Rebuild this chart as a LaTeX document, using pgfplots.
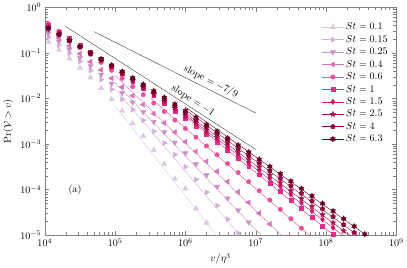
\documentclass[border=0pt]{standalone}
\usepackage{pgfplots}
\usepackage{pgfplotstable}
\pgfplotsset{compat=1.18}
\definecolor{c1}{HTML}{DCC8E2}
\definecolor{c2}{HTML}{D4AEDA}
\definecolor{c3}{HTML}{CA93C8}
\definecolor{c4}{HTML}{D774B6}
\definecolor{c5}{HTML}{E7509C}
\definecolor{c6}{HTML}{E42D88}
\definecolor{c7}{HTML}{CF1566}
\definecolor{c8}{HTML}{AE0F4E}
\definecolor{c9}{HTML}{8E0640}
\definecolor{c10}{HTML}{67001F}
\pgfdeclareplotmark{fstar}{%
  \pgfpathmoveto{\pgfpointpolar{90}{\pgfplotmarksize}}%
  \pgfpathlineto{\pgfpointpolar{126}{0.45*\pgfplotmarksize}}%
  \pgfpathlineto{\pgfpointpolar{162}{\pgfplotmarksize}}%
  \pgfpathlineto{\pgfpointpolar{198}{0.45*\pgfplotmarksize}}%
  \pgfpathlineto{\pgfpointpolar{234}{\pgfplotmarksize}}%
  \pgfpathlineto{\pgfpointpolar{270}{0.45*\pgfplotmarksize}}%
  \pgfpathlineto{\pgfpointpolar{306}{\pgfplotmarksize}}%
  \pgfpathlineto{\pgfpointpolar{342}{0.45*\pgfplotmarksize}}%
  \pgfpathlineto{\pgfpointpolar{18}{\pgfplotmarksize}}%
  \pgfpathlineto{\pgfpointpolar{54}{0.45*\pgfplotmarksize}}%
  \pgfpathclose
  \pgfusepathqfillstroke}
\pgfdeclareplotmark{hstar}{%
  \pgfpathmoveto{\pgfpointpolar{90}{\pgfplotmarksize}}%
  \pgfpathlineto{\pgfpointpolar{120}{0.55*\pgfplotmarksize}}%
  \pgfpathlineto{\pgfpointpolar{150}{\pgfplotmarksize}}%
  \pgfpathlineto{\pgfpointpolar{180}{0.55*\pgfplotmarksize}}%
  \pgfpathlineto{\pgfpointpolar{210}{\pgfplotmarksize}}%
  \pgfpathlineto{\pgfpointpolar{240}{0.55*\pgfplotmarksize}}%
  \pgfpathlineto{\pgfpointpolar{270}{\pgfplotmarksize}}%
  \pgfpathlineto{\pgfpointpolar{300}{0.55*\pgfplotmarksize}}%
  \pgfpathlineto{\pgfpointpolar{330}{\pgfplotmarksize}}%
  \pgfpathlineto{\pgfpointpolar{0}{0.55*\pgfplotmarksize}}%
  \pgfpathlineto{\pgfpointpolar{30}{\pgfplotmarksize}}%
  \pgfpathlineto{\pgfpointpolar{60}{0.55*\pgfplotmarksize}}%
  \pgfpathclose
  \pgfusepathqfillstroke}
\pgfplotsset{mlegend/.style={legend image code/.code={%
  \draw[##1] (0cm,0cm) -- (0.75cm,0cm);
  \draw[##1] plot coordinates {(0.375cm,0cm)};}}}
\pgfplotstableread{
x        a       b       c       d       e       f       g       h       i       j
1.122e4  1.75e-1 2.21e-1 2.66e-1 3.13e-1 4.42e-1 4.08e-1 3.74e-1 3.58e-1 3.51e-1 3.44e-1
1.585e4  1.17e-1 1.50e-1 1.80e-1 2.13e-1 3.01e-1 2.91e-1 2.70e-1 2.60e-1 2.58e-1 2.55e-1
2.239e4  7.55e-2 9.91e-2 1.20e-1 1.44e-1 2.04e-1 2.07e-1 1.94e-1 1.88e-1 1.88e-1 1.87e-1
3.162e4  4.73e-2 6.46e-2 7.94e-2 9.66e-2 1.38e-1 1.46e-1 1.38e-1 1.36e-1 1.37e-1 1.38e-1
4.467e4  2.87e-2 4.12e-2 5.18e-2 6.43e-2 9.29e-2 1.03e-1 9.86e-2 9.73e-2 9.95e-2 1.01e-1
6.310e4  1.69e-2 2.59e-2 3.33e-2 4.24e-2 6.22e-2 7.21e-2 7.00e-2 6.97e-2 7.19e-2 7.39e-2
8.913e4  9.64e-3 1.59e-2 2.12e-2 2.77e-2 4.16e-2 5.04e-2 4.94e-2 4.97e-2 5.20e-2 5.38e-2
1.259e5  5.33e-3 9.62e-3 1.33e-2 1.79e-2 2.77e-2 3.51e-2 3.48e-2 3.53e-2 3.73e-2 3.91e-2
1.778e5  2.86e-3 5.70e-3 8.26e-3 1.15e-2 1.83e-2 2.43e-2 2.45e-2 2.50e-2 2.67e-2 2.83e-2
2.512e5  1.49e-3 3.32e-3 5.07e-3 7.36e-3 1.21e-2 1.67e-2 1.71e-2 1.77e-2 1.91e-2 2.04e-2
3.548e5  7.48e-4 1.90e-3 3.07e-3 4.66e-3 7.93e-3 1.15e-2 1.19e-2 1.24e-2 1.36e-2 1.47e-2
5.012e5  3.66e-4 1.06e-3 1.83e-3 2.92e-3 5.18e-3 7.85e-3 8.28e-3 8.73e-3 9.64e-3 1.05e-2
7.079e5  1.73e-4 5.85e-4 1.08e-3 1.82e-3 3.37e-3 5.36e-3 5.73e-3 6.10e-3 6.82e-3 7.53e-3
1.000e6  1.05e-4 3.16e-4 6.31e-4 1.12e-3 2.19e-3 3.63e-3 3.94e-3 4.25e-3 4.81e-3 5.37e-3
1.413e6  3.80e-5 1.67e-4 3.63e-4 6.87e-4 1.41e-3 2.45e-3 2.71e-3 2.94e-3 3.38e-3 3.82e-3
1.995e6  1.86e-5 8.73e-5 2.07e-4 4.17e-4 9.08e-4 1.65e-3 1.85e-3 2.04e-3 2.37e-3 2.70e-3
2.818e6  nan     4.46e-5 1.16e-4 2.51e-4 5.82e-4 1.10e-3 1.26e-3 1.41e-3 1.65e-3 1.91e-3
3.981e6  nan     2.23e-5 6.44e-5 1.50e-4 3.72e-4 7.38e-4 8.57e-4 9.66e-4 1.15e-3 1.34e-3
5.623e6  nan     1.10e-5 3.52e-5 8.85e-5 2.36e-4 4.90e-4 5.79e-4 6.61e-4 7.94e-4 9.42e-4
7.943e6  nan     nan     1.91e-5 5.20e-5 1.49e-4 3.24e-4 3.90e-4 4.51e-4 5.50e-4 6.59e-4
1.122e7  nan     nan     nan     3.03e-5 9.40e-5 2.13e-4 2.62e-4 3.07e-4 3.78e-4 4.60e-4
1.585e7  nan     nan     nan     1.75e-5 5.89e-5 1.40e-4 1.75e-4 2.08e-4 2.59e-4 3.20e-4
2.239e7  nan     nan     nan     nan     3.68e-5 9.16e-5 1.17e-4 1.41e-4 1.77e-4 2.22e-4
3.162e7  nan     nan     nan     nan     2.29e-5 5.96e-5 7.74e-5 9.46e-5 1.21e-4 1.53e-4
4.467e7  nan     nan     nan     nan     1.42e-5 3.86e-5 5.12e-5 6.34e-5 8.22e-5 1.05e-4
6.310e7  nan     nan     nan     nan     nan     2.49e-5 3.37e-5 4.24e-5 5.57e-5 7.24e-5
8.913e7  nan     nan     nan     nan     nan     1.60e-5 2.21e-5 2.82e-5 3.76e-5 4.95e-5
1.259e8  nan     nan     nan     nan     nan     1.03e-5 1.45e-5 1.87e-5 2.53e-5 3.38e-5
1.778e8  nan     nan     nan     nan     nan     nan     nan     1.24e-5 1.69e-5 2.30e-5
2.512e8  nan     nan     nan     nan     nan     nan     nan     nan     1.13e-5 1.56e-5
3.548e8  nan     nan     nan     nan     nan     nan     nan     nan     nan     1.05e-5
}\data
\begin{document}
\begin{tikzpicture}
\begin{axis}[
  scale only axis, width=349pt, height=226pt,
  xmode=log, ymode=log,
  xmin=1e4, xmax=1e9, ymin=1e-5, ymax=1,
  xtick={1e4,1e5,1e6,1e7,1e8,1e9},
  ytick={1e-5,1e-4,1e-3,1e-2,1e-1,1},
  xlabel={$v/\eta^3$},
  ylabel={$\mathrm{Pr}(\mathcal{V}>v)$},
  axis line style={gray},
  every tick/.append style={gray},
  legend style={draw=none, fill=none, at={(0.99,0.95)}, anchor=north east, font=\normalsize},
  legend cell align=left,
]
\addplot[black!75, forget plot] coordinates {(5e4,0.295) (1e7,4.8e-3)};
\addplot[black!75, forget plot] coordinates {(2e4,0.38) (1e7,7.6e-4)};
% St = 0.1
\addplot[c1, only marks, mark=triangle*, mark size=3pt, mark options={fill=c1,draw=c1}, mlegend] table[x=x,y=a]{\data};
\addlegendentry{$St=0.1$}
\addplot[c1, forget plot] coordinates {(1e5,6.82e-3) (3.08e6,7.94e-6)};
% St = 0.15
\addplot[c2, only marks, mark=triangle*, mark size=3pt, mark options={fill=c2,draw=c2,rotate=-90}, mlegend] table[x=x,y=b]{\data};
\addlegendentry{$St=0.15$}
\addplot[c2, forget plot] coordinates {(1e5,1.62e-2) (6.73e6,7.94e-6)};
% St = 0.25
\addplot[c3, only marks, mark=triangle*, mark size=3pt, mark options={fill=c3,draw=c3,rotate=180}, mlegend] table[x=x,y=c]{\data};
\addlegendentry{$St=0.25$}
\addplot[c3, forget plot] coordinates {(1e5,2.24e-2) (1.37e7,7.94e-6)};
% St = 0.4
\addplot[c4, only marks, mark=triangle*, mark size=3pt, mark options={fill=c4,draw=c4,rotate=90}, mlegend] table[x=x,y=d]{\data};
\addlegendentry{$St=0.4$}
\addplot[c4, forget plot] coordinates {(1e5,3.18e-2) (2.70e7,7.94e-6)};
% St = 0.6
\addplot[c5, only marks, mark=*, mark size=2.2pt, mark options={fill=c5,draw=c5}, mlegend] table[x=x,y=e]{\data};
\addlegendentry{$St=0.6$}
\addplot[c5, forget plot] coordinates {(3.162e5,1.04e-2) (6.90e7,7.94e-6)};
% St = 1
\addplot[c6, only marks, mark=square*, mark size=1.9pt, mark options={fill=c6,draw=c6}, mlegend] table[x=x,y=f]{\data};
\addlegendentry{$St=1$}
\addplot[c6, forget plot] coordinates {(1e6,4.08e-3) (1.55e8,7.94e-6)};
% St = 1.5
\addplot[c7, only marks, mark=diamond*, mark size=2.6pt, mark options={fill=c7,draw=c7}, mlegend] table[x=x,y=g]{\data};
\addlegendentry{$St=1.5$}
\addplot[c7, forget plot] coordinates {(1e6,4.38e-3) (2.09e8,7.94e-6)};
% St = 2.5
\addplot[c8, only marks, mark=fstar, mark size=2.8pt, mark options={fill=c8,draw=c8}, mlegend] table[x=x,y=h]{\data};
\addlegendentry{$St=2.5$}
\addplot[c8, forget plot] coordinates {(1e6,4.83e-3) (2.62e8,7.94e-6)};
% St = 4
\addplot[c9, only marks, mark=pentagon*, mark size=2.5pt, mark options={fill=c9,draw=c9}, mlegend] table[x=x,y=i]{\data};
\addlegendentry{$St=4$}
\addplot[c9, forget plot] coordinates {(1e6,5.65e-3) (3.44e8,7.94e-6)};
% St = 6.3
\addplot[c10, only marks, mark=hstar, mark size=2.8pt, mark options={fill=c10,draw=c10}, mlegend] table[x=x,y=j]{\data};
\addlegendentry{$St=6.3$}
\addplot[c10, forget plot] coordinates {(1e6,6.46e-3) (4.60e8,7.94e-6)};
\node[rotate=-26.7, anchor=south, inner sep=2.5pt] at (axis cs:2.06e6,1.64e-2) {slope $=-7/9$};
\node[rotate=-32.9, anchor=south, inner sep=2pt] at (axis cs:1.14e6,6.67e-3) {slope $=-1$};
\node at (axis cs:2.69e4,1e-4) {(a)};
\end{axis}
\end{tikzpicture}
\end{document}
